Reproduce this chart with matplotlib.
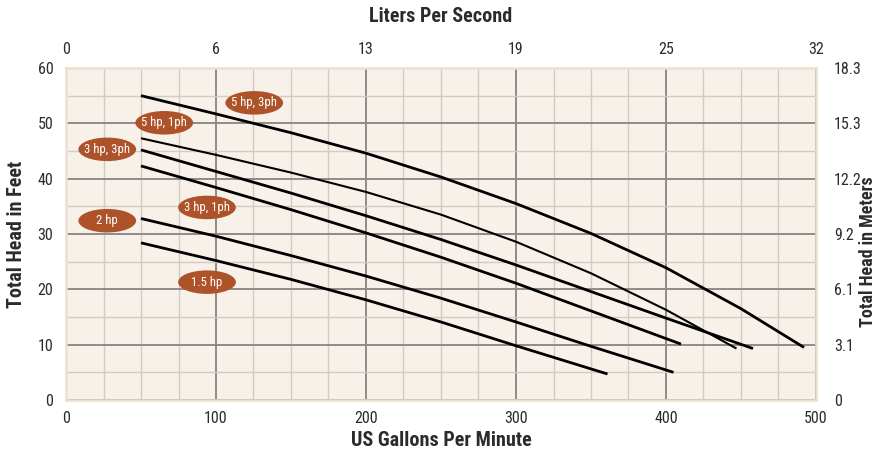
import matplotlib
matplotlib.use("Agg")
import matplotlib.pyplot as plt
from matplotlib.patches import Ellipse
from matplotlib import font_manager as fm

# ---- data ----
gpm_5hp3ph = [50, 100, 150, 200, 250, 300, 350, 400, 450, 492]
ft_5hp3ph = [55.0, 51.7, 48.3, 44.6, 40.3, 35.5, 30.1, 23.9, 16.5, 9.5]

gpm_5hp1ph = [50, 100, 150, 200, 250, 300, 350, 400, 447]
ft_5hp1ph = [47.3, 44.3, 41.1, 37.6, 33.5, 28.6, 22.9, 16.3, 9.3]

gpm_3hp3ph = [50, 100, 150, 200, 250, 300, 350, 400, 458]
ft_3hp3ph = [45.2, 41.3, 37.4, 33.3, 29.0, 24.4, 19.6, 14.8, 9.3]

gpm_3hp1ph = [50, 100, 150, 200, 250, 300, 350, 410]
ft_3hp1ph = [42.3, 38.4, 34.4, 30.2, 25.8, 21.1, 16.1, 10.1]

gpm_2hp = [50, 100, 150, 200, 250, 300, 350, 405]
ft_2hp = [32.8, 29.6, 26.1, 22.4, 18.4, 14.1, 9.7, 5.0]

gpm_15hp = [50, 100, 150, 200, 250, 300, 361]
ft_15hp = [28.4, 25.2, 21.8, 18.1, 14.1, 9.8, 4.7]

labels = ["5 hp, 3ph", "5 hp, 1ph", "3 hp, 3ph", "3 hp, 1ph", "2 hp", "1.5 hp"]
label_gpm = [125.5, 65.5, 27.5, 94.0, 27.5, 94.0]
label_ft = [53.7, 50.1, 45.3, 34.8, 32.4, 21.3]

x_ticks = [0, 100, 200, 300, 400, 500]
y_ticks = [0, 10, 20, 30, 40, 50, 60]
lps_labels = ["0", "6", "13", "19", "25", "32"]
m_labels = ["0", "3.1", "6.1", "9.2", "12.2", "15.3", "18.3"]

# ---- fonts ----
avail = {f.name for f in fm.fontManager.ttflist}
fam = "Lato"
for cand in ["Roboto Condensed", "Liberation Sans Narrow", "Lato", "Roboto"]:
    if cand in avail:
        fam = cand
        break
plt.rcParams['font.family'] = [fam, 'DejaVu Sans']

W, H = 879, 455
fig = plt.figure(figsize=(W / 100, H / 100), dpi=100)
fig.patch.set_facecolor("white")
ax = fig.add_axes([66 / W, 1 - 400 / H, 750 / W, 332 / H])
ax.set_facecolor("#f7f1ea")
ax.set_xlim(0, 500)
ax.set_ylim(0, 60)

# grid
for gx in range(0, 501, 25):
    major = gx % 100 == 0
    ax.axvline(gx, color="#8e8b88" if major else "#d2cbc3",
               lw=1.4 if major else 1.0, zorder=1)
for gy in range(0, 61, 5):
    major = gy % 10 == 0
    ax.axhline(gy, color="#8e8b88" if major else "#d2cbc3",
               lw=1.4 if major else 1.0, zorder=1)

for s in ax.spines.values():
    s.set_color("#eadfd1")
    s.set_linewidth(1.8)

# curves
series = [
    (gpm_5hp3ph, ft_5hp3ph, 2.0),
    (gpm_5hp1ph, ft_5hp1ph, 1.5),
    (gpm_3hp3ph, ft_3hp3ph, 2.0),
    (gpm_3hp1ph, ft_3hp1ph, 2.0),
    (gpm_2hp, ft_2hp, 2.0),
    (gpm_15hp, ft_15hp, 2.0),
]
for xs, ys, lw in series:
    ax.plot(xs, ys, color="black", lw=lw, zorder=3, solid_capstyle="butt",
            solid_joinstyle="round")

# labels
for t, gx, gy in zip(labels, label_gpm, label_ft):
    e = Ellipse((gx, gy), width=38.5, height=4.25, facecolor="#ae522a",
                edgecolor="none", zorder=4)
    ax.add_patch(e)
    ax.text(gx, gy, t, ha="center", va="center", color="white",
            fontsize=9.2, zorder=5)

txtcol = "#2b2b2b"
ax.set_xticks(x_ticks)
ax.set_yticks(y_ticks)
ax.tick_params(axis="both", length=0, labelsize=11.5, colors=txtcol)
ax.tick_params(axis="x", pad=8)
ax.tick_params(axis="y", pad=9)

ax2 = ax.twinx()
ax2.set_ylim(0, 60)
ax2.set_yticks(y_ticks)
ax2.set_yticklabels(m_labels)
ax2.tick_params(axis="y", length=0, labelsize=11.5, colors=txtcol, pad=13)
for s in ax2.spines.values():
    s.set_visible(False)

ax3 = ax.twiny()
ax3.set_xlim(0, 500)
ax3.set_xticks(x_ticks)
ax3.set_xticklabels(lps_labels)
ax3.tick_params(axis="x", length=0, labelsize=11.5, colors=txtcol, pad=8)
for s in ax3.spines.values():
    s.set_visible(False)

fs_lab = 14.5
fig.text(0.5 * (66 + 816) / W, 1 - 441 / H, "US Gallons Per Minute",
         ha="center", va="center", fontsize=fs_lab, fontweight="bold", color=txtcol)
fig.text(0.5 * (66 + 816) / W, 1 - 17 / H, "Liters Per Second",
         ha="center", va="center", fontsize=fs_lab, fontweight="bold", color=txtcol)
fig.text(17 / W, 1 - 234 / H, "Total Head in Feet", rotation=90,
         ha="center", va="center", fontsize=fs_lab, fontweight="bold", color=txtcol)
fig.text(868 / W, 1 - 252 / H, "Total Head in Meters", rotation=90,
         ha="center", va="center", fontsize=13, fontweight="bold", color=txtcol)

fig.savefig("out.png", dpi=100, facecolor="white")
